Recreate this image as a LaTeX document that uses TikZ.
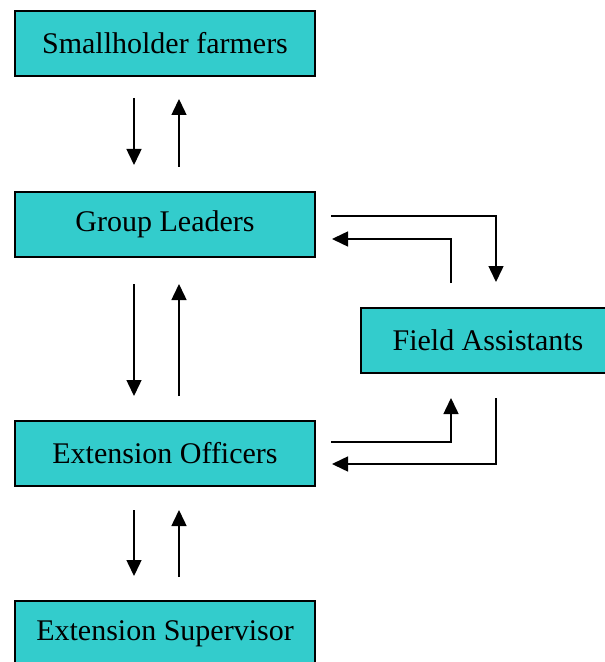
\documentclass[tikz,border=0pt]{standalone}
\usepackage{fontspec}
\setmainfont{Liberation Serif}
\usepackage{tikz}
\usetikzlibrary{arrows.meta,calc}

\begin{document}
\begin{tikzpicture}[x=0.5pt,y=-0.5pt,
  box/.style={draw=black,line width=1pt,fill=boxcyan,minimum width=150pt,minimum height=32.5pt,inner sep=0pt,font=\fontsize{15}{18}\selectfont},
  arr/.style={line width=0.75pt,-{Triangle[width=7.5pt,length=8pt]}}]
\definecolor{boxcyan}{HTML}{33CCCC}
\useasboundingbox (0,0) rectangle (604,662);
\node[box] (farmers) at (165,43.5) {Smallholder farmers};
\node[box] (leaders) at (165,224.5) {Group Leaders};
\node[box,minimum width=140pt] (assist) at (501,340.5) {\hspace*{-13pt}Field Assistants};
\node[box] (officers) at (165,453.5) {Extension Officers};
\node[box] (super) at (165,633.5) {Extension Supervisor};
\draw[arr,shorten <=10.5pt,shorten >=13pt] ([xshift=-15.5pt]farmers.south) -- ([xshift=-15.5pt]leaders.north);
\draw[arr,shorten <=12pt,shorten >=11pt] ([xshift=7pt]leaders.north) -- ([xshift=7pt]farmers.south);
\draw[arr,shorten <=13pt,shorten >=12pt] ([xshift=-15.5pt]leaders.south) -- ([xshift=-15.5pt]officers.north);
\draw[arr,shorten <=12pt,shorten >=13pt] ([xshift=7pt]officers.north) -- ([xshift=7pt]leaders.south);
\draw[arr,shorten <=11.5pt,shorten >=12pt] ([xshift=-15.5pt]officers.south) -- ([xshift=-15.5pt]super.north);
\draw[arr,shorten <=11.5pt,shorten >=11.5pt] ([xshift=7pt]super.north) -- ([xshift=7pt]officers.south);
\draw[arr,shorten <=7.5pt,shorten >=12.5pt] ([yshift=4.25pt]leaders.east) -| ([xshift=-2.5pt]assist.north);
\draw[arr,shorten <=12pt,shorten >=8pt] ([xshift=-25pt]assist.north) |- ([yshift=-7.25pt]leaders.east);
\draw[arr,shorten <=7.5pt,shorten >=12pt] ([yshift=5.75pt]officers.east) -| ([xshift=-25pt]assist.south);
\draw[arr,shorten <=12pt,shorten >=8pt] ([xshift=-2.5pt]assist.south) |- ([yshift=-5.25pt]officers.east);
\end{tikzpicture}
\end{document}
